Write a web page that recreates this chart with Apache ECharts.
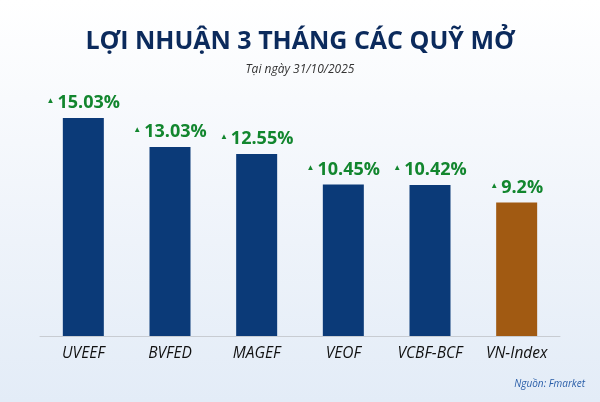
<!DOCTYPE html><html><head><meta charset="utf-8">
<script src="https://cdn.jsdelivr.net/npm/echarts@6/dist/echarts.min.js"></script>
<style>body{margin:0}#c{width:600px;height:402px;background:linear-gradient(180deg,#ffffff 0%,#eef3fa 60%,#e3ecf7 100%)}</style>
</head><body><div id="c"></div><script>
const categories=['UVEEF','BVFED','MAGEF','VEOF','VCBF-BCF','VN-Index'];
const values=[15.03,13.03,12.55,10.45,10.42,9.2];
const colors=['#0b3a78','#0b3a78','#0b3a78','#0b3a78','#0b3a78','#a15a12'];
const chart=echarts.init(document.getElementById('c'));
chart.setOption({
 title:[{text:'LỢI NHUẬN 3 THÁNG CÁC QUỸ MỞ',left:'center',top:24,textStyle:{fontFamily:'Open Sans',fontSize:25,fontWeight:'bold',color:'#0b2a5c'}},
  {text:'Tại ngày 31/10/2025',left:'center',top:59,textStyle:{fontFamily:'Open Sans',fontSize:12,fontStyle:'italic',fontWeight:'normal',color:'#333'}},
  {text:'Nguồn: Fmarket',right:10,bottom:8,textStyle:{fontFamily:'Open Sans',fontSize:10,fontStyle:'italic',fontWeight:'normal',color:'#2a5ea8'}}],
 grid:{left:40,right:40,top:104,bottom:66},
 xAxis:{type:'category',data:categories,axisTick:{show:false},axisLine:{lineStyle:{color:'#c8ccd2'}},
  axisLabel:{interval:0,fontFamily:'Open Sans',fontSize:15.5,fontStyle:'italic',fontWeight:500,color:'#111',margin:10}},
 yAxis:{type:'value',min:0,max:16,show:false,splitLine:{show:false}},
 series:[{type:'bar',barWidth:41,data:values.map((v,i)=>({value:v,itemStyle:{color:colors[i]}})),
  label:{show:true,position:'top',distance:6,formatter:p=>'{t|▲}'+p.value+'%',
   rich:{t:{fontSize:8,color:'#12862e',padding:[0,3,4,0]}},
   fontFamily:'Open Sans',fontSize:18,fontWeight:'bold',color:'#12862e'}}]
});
</script></body></html>
